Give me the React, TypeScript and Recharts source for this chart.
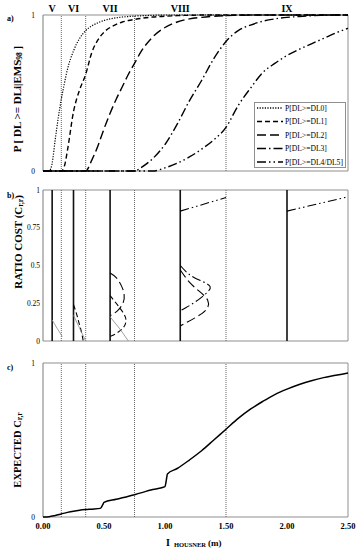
import React from 'react';
import { LineChart, Line, XAxis, YAxis, ReferenceLine, ReferenceDot, Legend } from 'recharts';

const FONT = '"Liberation Serif", "Times New Roman", serif';

// ---------- shared regions (EMS-98 intensity bands) ----------
const regionNames = ['V', 'VI', 'VII', 'VIII', 'IX'];
const regionCenters = [0.075, 0.25, 0.55, 1.125, 2.0];
const regionBounds = [0.15, 0.35, 0.75, 1.5];
const xTicks = [0, 0.5, 1, 1.5, 2, 2.5];

// ---------- panel a: fragility curves ----------
const intensityA = [0, 0.05, 0.075, 0.1, 0.125, 0.15, 0.175, 0.2, 0.25, 0.3, 0.35, 0.4, 0.45, 0.5, 0.55, 0.6, 0.65, 0.7, 0.75, 0.8, 0.9, 1.0, 1.1, 1.2, 1.3, 1.4, 1.5, 1.6, 1.7, 1.8, 1.9, 2.0, 2.1, 2.2, 2.3, 2.4, 2.5];
const probDL0 = [0, 0, 0.05, 0.2, 0.34, 0.46, 0.56, 0.65, 0.77, 0.85, 0.9, 0.93, 0.95, 0.965, 0.975, 0.982, 0.987, 0.99, 0.993, 0.995, 0.998, 1, 1, 1, 1, 1, 1, 1, 1, 1, 1, 1, 1, 1, 1, 1, 1];
const probDL1 = [0, 0, 0, 0, 0, 0, 0.03, 0.13, 0.38, 0.52, 0.62, 0.76, 0.84, 0.89, 0.92, 0.94, 0.955, 0.965, 0.972, 0.978, 0.987, 0.992, 0.996, 0.998, 1, 1, 1, 1, 1, 1, 1, 1, 1, 1, 1, 1, 1];
const probDL2 = [0, 0, 0, 0, 0, 0, 0, 0, 0, 0, 0, 0.07, 0.16, 0.27, 0.37, 0.46, 0.54, 0.62, 0.69, 0.76, 0.86, 0.92, 0.955, 0.975, 0.985, 0.992, 0.996, 0.998, 1, 1, 1, 1, 1, 1, 1, 1, 1];
const probDL3 = [0, 0, 0, 0, 0, 0, 0, 0, 0, 0, 0, 0, 0, 0, 0, 0, 0, 0, 0, 0.02, 0.08, 0.17, 0.3, 0.45, 0.58, 0.72, 0.83, 0.9, 0.935, 0.96, 0.975, 0.985, 0.99, 0.995, 0.998, 1, 1];
const probDL45 = [0, 0, 0, 0, 0, 0, 0, 0, 0, 0, 0, 0, 0, 0, 0, 0, 0, 0, 0, 0, 0, 0.02, 0.05, 0.09, 0.14, 0.2, 0.28, 0.42, 0.53, 0.63, 0.69, 0.74, 0.78, 0.815, 0.85, 0.885, 0.915];
const seriesNames = ['P[DL>=DL0]', 'P[DL>=DL1]', 'P[DL>=DL2]', 'P[DL>=DL3]', 'P[DL>=DL4/DL5]'];

// ---------- panel b: cost-ratio distributions ----------
const costV_DL0_x = [0.075, 0.115, 0.158];
const costV_DL0_y = [0.14, 0.085, 0.03];
const costVI_DL1_x = [0.25, 0.275, 0.295, 0.315, 0.33];
const costVI_DL1_y = [0.24, 0.18, 0.12, 0.06, 0];
const costVI_DL0_x = [0.25, 0.3, 0.35];
const costVI_DL0_y = [0.17, 0.085, 0];
const costVII_DL2_x = [0.55, 0.6, 0.64, 0.665, 0.655, 0.61, 0.555];
const costVII_DL2_y = [0.45, 0.42, 0.37, 0.31, 0.25, 0.2, 0.17];
const costVII_DL1_x = [0.55, 0.6, 0.655, 0.68, 0.66, 0.6, 0.55];
const costVII_DL1_y = [0.3, 0.25, 0.19, 0.14, 0.09, 0.05, 0.03];
const costVII_DL0_x = [0.55, 0.63, 0.7];
const costVII_DL0_y = [0.16, 0.08, 0];
const costVIII_DL3_x = [1.125, 1.2, 1.29, 1.37, 1.33, 1.25, 1.17, 1.125];
const costVIII_DL3_y = [0.5, 0.44, 0.4, 0.36, 0.31, 0.26, 0.22, 0.2];
const costVIII_DL2_x = [1.125, 1.2, 1.28, 1.35, 1.34, 1.26, 1.17, 1.125];
const costVIII_DL2_y = [0.47, 0.39, 0.33, 0.27, 0.21, 0.16, 0.12, 0.1];
const costVIII_DL45_x = [1.125, 1.5];
const costVIII_DL45_y = [0.86, 0.95];
const costIX_DL45_x = [2.0, 2.5];
const costIX_DL45_y = [0.86, 0.955];

// ---------- panel c: expected cost ratio ----------
const intensityC = [0, 0.05, 0.1, 0.15, 0.2, 0.25, 0.3, 0.35, 0.4, 0.47, 0.49, 0.5, 0.6, 0.75, 0.9, 1.0, 1.01, 1.02, 1.1, 1.2, 1.3, 1.4, 1.5, 1.6, 1.7, 1.8, 1.9, 2.0, 2.1, 2.2, 2.3, 2.4, 2.5];
const expectedCost = [0, 0.002, 0.01, 0.02, 0.03, 0.038, 0.044, 0.048, 0.051, 0.056, 0.08, 0.095, 0.115, 0.145, 0.178, 0.197, 0.235, 0.28, 0.315, 0.37, 0.43, 0.5, 0.57, 0.64, 0.7, 0.75, 0.795, 0.83, 0.86, 0.885, 0.905, 0.92, 0.935];

// ---------- styles ----------
const seriesKeys = ['dl0', 'dl1', 'dl2', 'dl3', 'dl45'];
const seriesDash = ['1.2 1.4', '5 3', '9 4', '9 3 1.5 3', '9 3 1.5 3 1.5 3'];
const FRAME = '#8f8f8f';
const GUIDE = '#666';

const tableA = intensityA.map((x, i) => ({
  x,
  dl0: probDL0[i],
  dl1: probDL1[i],
  dl2: probDL2[i],
  dl3: probDL3[i],
  dl45: probDL45[i],
}));
const tableC = intensityC.map((x, i) => ({ x, c: expectedCost[i] }));
const pts = (xs: number[], ys: number[]) => xs.map((x, i) => ({ x, y: ys[i] }));

const costCurves = [
  { data: pts(costV_DL0_x, costV_DL0_y), s: 0, gray: true },
  { data: pts(costVI_DL1_x, costVI_DL1_y), s: 1 },
  { data: pts(costVI_DL0_x, costVI_DL0_y), s: 0, gray: true },
  { data: pts(costVII_DL2_x, costVII_DL2_y), s: 2 },
  { data: pts(costVII_DL1_x, costVII_DL1_y), s: 1 },
  { data: pts(costVII_DL0_x, costVII_DL0_y), s: 0, gray: true },
  { data: pts(costVIII_DL3_x, costVIII_DL3_y), s: 3 },
  { data: pts(costVIII_DL2_x, costVIII_DL2_y), s: 2 },
  { data: pts(costVIII_DL45_x, costVIII_DL45_y), s: 4 },
  { data: pts(costIX_DL45_x, costIX_DL45_y), s: 4 },
];

const tickY = { fontSize: 7.5, fill: '#000', fontFamily: FONT };
const tickX = { fontSize: 8.5, fill: '#000', fontFamily: FONT, fontWeight: 'bold' as const };

const frame = (keyPrefix: string) => [
  <ReferenceLine key={keyPrefix + 't'} y={1} stroke={FRAME} strokeWidth={1} />,
  <ReferenceLine key={keyPrefix + 'b'} y={0} stroke={FRAME} strokeWidth={1.2} />,
  <ReferenceLine key={keyPrefix + 'l'} x={0} stroke={FRAME} strokeWidth={1.2} />,
  <ReferenceLine key={keyPrefix + 'r'} x={2.5} stroke={FRAME} strokeWidth={1} />,
];
const guides = (keyPrefix: string) =>
  regionBounds.map((b) => (
    <ReferenceLine key={keyPrefix + b} x={b} stroke={GUIDE} strokeDasharray="1 1" strokeWidth={1} />
  ));

const LegendBox = () => (
  <svg width={92} height={66} style={{ display: 'block' }}>
    <rect x={0.5} y={0.5} width={91} height={65} fill="#fff" stroke={FRAME} strokeWidth={1} />
    {seriesNames.map((name, i) => {
      const y = 6 + i * 13.5;
      return (
        <g key={name}>
          <line x1={3} x2={29} y1={y} y2={y} stroke="#000" strokeWidth={1.3} strokeDasharray={seriesDash[i]} />
          <text x={31} y={y} dominantBaseline="central" fontSize={7.6} fontFamily={FONT} fill="#000">
            {name}
          </text>
        </g>
      );
    })}
  </svg>
);

export default function App() {
  return (
    <div style={{ position: 'absolute', left: 0, top: 0, width: 358, height: 550, background: '#fff' }}>
      {/* panel a */}
      <div style={{ position: 'absolute', left: 0, top: 0 }}>
        <LineChart width={358} height={185} data={tableA} margin={{ top: 15, right: 10, bottom: 14, left: 13 }}>
          <XAxis dataKey="x" type="number" domain={[0, 2.5]} hide allowDataOverflow />
          <YAxis type="number" domain={[0, 1]} ticks={[0, 1]} width={30} axisLine={false} tickLine={false} tickSize={0} tickMargin={8} tick={tickY} />
          {frame('a')}
          {guides('a')}
          {regionCenters.map((c, i) => (
            <ReferenceDot
              key={'n' + i}
              x={c}
              y={1}
              r={0}
              fill="none"
              stroke="none"
              label={{ value: regionNames[i], position: 'top', offset: 3, fill: '#000', fontSize: 10, fontWeight: 'bold', fontFamily: FONT }}
            />
          ))}
          {seriesKeys.map((k, i) => (
            <Line
              key={k}
              dataKey={k}
              name={seriesNames[i]}
              type="monotone"
              stroke="#000"
              strokeWidth={i === 0 ? 1.2 : 1.4}
              strokeDasharray={seriesDash[i]}
              dot={false}
              isAnimationActive={false}
            />
          ))}
          <Legend
            layout="vertical"
            align="center"
            verticalAlign="middle"
            content={() => <LegendBox />}
            wrapperStyle={{ position: 'absolute', left: 254, top: 102, width: 92, height: 66 }}
          />
        </LineChart>
      </div>

      {/* panel b */}
      <div style={{ position: 'absolute', left: 0, top: 180 }}>
        <LineChart width={358} height={170} margin={{ top: 10, right: 10, bottom: 9, left: 13 }}>
          <XAxis dataKey="x" type="number" domain={[0, 2.5]} hide allowDataOverflow />
          <YAxis type="number" domain={[0, 1]} ticks={[0, 0.25, 0.5, 0.75, 1]} width={30} axisLine={false} tickLine={false} tickSize={0} tickMargin={3} tick={tickY} />
          {frame('b')}
          {guides('b')}
          {regionCenters.map((c) => (
            <ReferenceLine key={'c' + c} x={c} stroke="#111" strokeWidth={1.6} />
          ))}
          {costCurves.map((cv, i) => (
            <Line
              key={'cv' + i}
              data={cv.data}
              dataKey="y"
              type={cv.data.length > 3 ? 'natural' : 'linear'}
              stroke={cv.gray ? '#8a8a8a' : '#000'}
              strokeWidth={cv.gray ? 0.8 : 1.1}
              strokeDasharray={cv.gray ? undefined : seriesDash[cv.s]}
              dot={false}
              isAnimationActive={false}
            />
          ))}
        </LineChart>
      </div>

      {/* panel c */}
      <div style={{ position: 'absolute', left: 0, top: 350 }}>
        <LineChart width={358} height={200} data={tableC} margin={{ top: 13, right: 10, bottom: 3, left: 13 }}>
          <XAxis
            dataKey="x"
            type="number"
            domain={[0, 2.5]}
            ticks={xTicks}
            tickFormatter={(v: number) => v.toFixed(2)}
            height={30}
            axisLine={false}
            tickLine={false}
            tickSize={0}
            tickMargin={6}
            tick={tickX}
            interval={0}
          />
          <YAxis type="number" domain={[0, 1]} ticks={[0, 1]} width={30} axisLine={false} tickLine={false} tickSize={0} tickMargin={8} tick={tickY} />
          {frame('c')}
          {guides('c')}
          <Line dataKey="c" type="monotone" stroke="#000" strokeWidth={1.5} dot={false} isAnimationActive={false} />
        </LineChart>
      </div>

      {/* titles */}
      <svg width={358} height={550} style={{ position: 'absolute', left: 0, top: 0, pointerEvents: 'none' }} fontFamily={FONT} fill="#000">
        <text x={7} y={21} fontSize={8} fontWeight="bold">a)</text>
        <text x={7} y={198} fontSize={8} fontWeight="bold">b)</text>
        <text x={7} y={370} fontSize={8} fontWeight="bold">c)</text>
        <text transform="translate(17,99) rotate(-90)" textAnchor="middle" dominantBaseline="central" fontSize={11} fontWeight="bold">
          P [ DL &gt;= DLi|EMS<tspan fontSize={7.5} dy={2}>98</tspan><tspan dy={-2}> ]</tspan>
        </text>
        <text transform="translate(18,242) rotate(-90)" textAnchor="middle" dominantBaseline="central" fontSize={11} fontWeight="bold">
          RATIO COST (C<tspan fontSize={7.5} dy={2}>r,r</tspan><tspan dy={-2}>)</tspan>
        </text>
        <text transform="translate(17,450) rotate(-90)" textAnchor="middle" dominantBaseline="central" fontSize={10.5} fontWeight="bold">
          EXPECTED  C<tspan fontSize={7.5} dy={2}>r,r</tspan>
        </text>
        <text x={166} y={546} fontWeight="bold">
          <tspan fontSize={10}>I</tspan>
          <tspan fontSize={6.5} dx={4} dy={1}>HOUSNER</tspan>
          <tspan fontSize={9} dx={2} dy={-1}>(m)</tspan>
        </text>
      </svg>
    </div>
  );
}
